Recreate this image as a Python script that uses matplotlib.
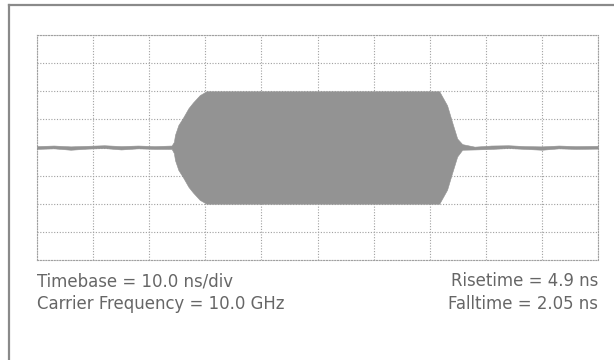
import matplotlib
matplotlib.use("Agg")
import matplotlib.pyplot as plt
from matplotlib.lines import Line2D
import numpy as np

# Envelope of the pulsed-carrier trace (time in ns, amplitude in divisions)
time_ns = [0, 3, 6, 9, 12, 15, 18, 21, 24.0, 24.4, 24.6, 25.2, 26.0, 27.0, 27.8, 29.0,
           30.2, 32, 40, 50, 60, 70, 71.7, 73.1, 74.0, 74.9, 75.8, 78, 81, 84,
           87, 90, 93, 96, 100]
center_div = [0.00, 0.02, -0.02, 0.01, 0.03, -0.01, 0.02, 0.00, 0.01, 0.0, 0.0, 0.0, 0.0, 0.0, 0.0, 0.0,
              0.0, 0.0, 0.0, 0.0, 0.0, 0.0, 0.0, 0.0, 0.0, 0.0, 0.02, -0.02, 0.01, 0.03,
              0.00, -0.02, 0.02, 0.00, 0.01]
half_amp_div = [0.05, 0.05, 0.06, 0.05, 0.05, 0.06, 0.05, 0.05, 0.06, 0.20, 0.45, 0.80, 1.05, 1.40, 1.60, 1.86,
                2.00, 2.00, 2.00, 2.00, 2.00, 2.00, 2.00, 1.50, 0.90, 0.32, 0.10, 0.05, 0.06, 0.05,
                0.05, 0.06, 0.05, 0.05, 0.05]

left_lines = ["Timebase = 10.0 ns/div", "Carrier Frequency = 10.0 GHz"]
right_lines = ["Risetime = 4.9 ns", "Falltime = 2.05 ns"]

W, H = 614, 360
fig = plt.figure(figsize=(W / 100, H / 100), dpi=100)
fig.patch.set_facecolor("white")

ax = fig.add_axes([37 / W, 100 / H, 561 / W, 225 / H])
t = np.array(time_ns)
c = np.array(center_div)
a = np.array(half_amp_div)
ax.fill_between(t, c - a, c + a, color="#939393", linewidth=0.4, edgecolor="#939393", zorder=3)

ax.set_xlim(0, 100)
ax.set_ylim(-4, 4)
ax.set_xticks(np.arange(0, 101, 10))
ax.set_yticks(np.arange(-4, 5, 1))
ax.grid(True, color="#a0a0a0", linestyle=(0, (1, 1.5)), linewidth=0.8, zorder=1)
ax.tick_params(length=0, labelbottom=False, labelleft=False)
for s in ax.spines.values():
    s.set_color("#a0a0a0")
    s.set_linestyle((0, (1, 1.5)))
    s.set_linewidth(0.8)

# outer frame (cropped at right and bottom)
fx = 9 / W
fy = 1 - 5 / H
fig.add_artist(Line2D([fx, fx], [0, fy], transform=fig.transFigure, color="#8a8a8a", lw=1.6))
fig.add_artist(Line2D([fx, 1], [fy, fy], transform=fig.transFigure, color="#8a8a8a", lw=1.6))

fam = ["DejaVu Sans"]
tc = "#666666"
kw = dict(fontsize=13.2, color=tc, family=fam, fontstretch="condensed", va="baseline")
fig.text(37 / W, 1 - 286 / H, left_lines[0], ha="left", **kw)
fig.text(37 / W, 1 - 309 / H, left_lines[1], ha="left", **kw)
fig.text(598 / W, 1 - 286 / H, right_lines[0], ha="right", **kw)
fig.text(598 / W, 1 - 309 / H, right_lines[1], ha="right", **kw)

fig.savefig("out.png", dpi=100, facecolor="white")
